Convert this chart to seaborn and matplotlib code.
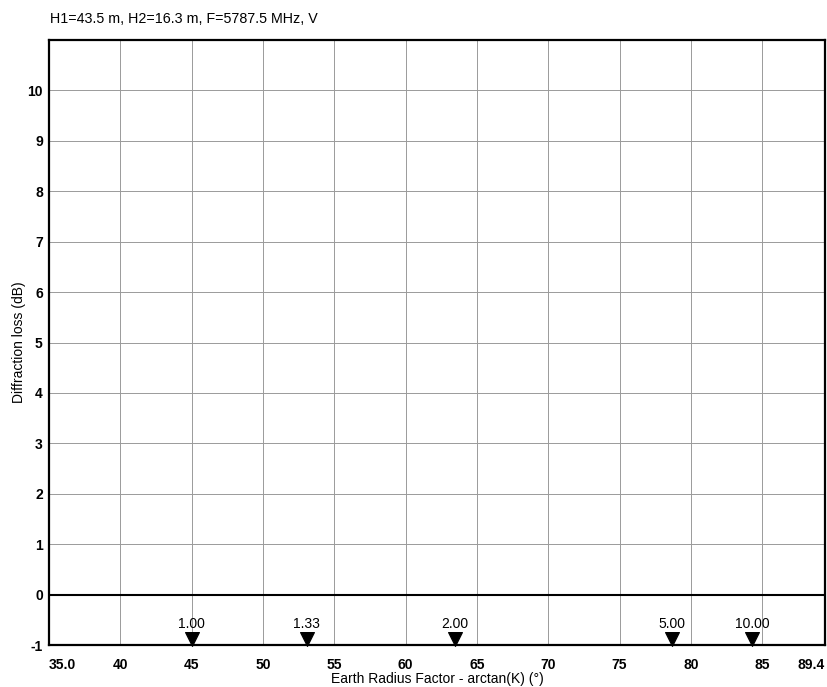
"""Diffraction loss vs. earth radius factor chart."""

import matplotlib
matplotlib.use('Agg')
import matplotlib.pyplot as plt
import seaborn as sns
import numpy as np
import pandas as pd

# Chart data
title = 'H1=43.5 m, H2=16.3 m, F=5787.5 MHz, V'
k_factors = [1.00, 1.33, 2.00, 5.00, 10.00]
k_labels = ['1.00', '1.33', '2.00', '5.00', '10.00']
x_ticks = [35.0, 40, 45, 50, 55, 60, 65, 70, 75, 80, 85, 89.4]
x_tick_labels = ['35.0', '40', '45', '50', '55', '60', '65', '70', '75', '80', '85', '89.4']
y_ticks = [-1, 0, 1, 2, 3, 4, 5, 6, 7, 8, 9, 10]
loss_line_x = [35.0, 89.4]
loss_line_y = [0.0, 0.0]

sns.set_style('white')
plt.rcParams['font.family'] = ['Liberation Sans', 'DejaVu Sans']
plt.rcParams.update({
    'text.color': 'black',
    'axes.labelcolor': 'black',
    'xtick.color': 'black',
    'ytick.color': 'black',
})

fig = plt.figure(figsize=(8.28, 6.87), dpi=100)
ax = fig.add_axes([0.0592, 0.0611, 0.9372, 0.8807])

# Vertical / horizontal grid
for x in x_ticks[1:-1]:
    ax.axvline(x, color='#9a9a9a', lw=0.7, zorder=0)
for y in y_ticks[2:] + [11]:
    ax.axhline(y, color='#9a9a9a', lw=0.7, zorder=0)

# Diffraction loss line (zero across the range)
line_df = pd.DataFrame({'x': loss_line_x, 'y': loss_line_y})
sns.lineplot(data=line_df, x='x', y='y', color='black', lw=1.5, ax=ax, zorder=3)

# K-factor markers
k_df = pd.DataFrame({
    'angle': np.degrees(np.arctan(k_factors)),
    'y': [-0.89] * len(k_factors),
    'label': k_labels,
})
sns.scatterplot(data=k_df, x='angle', y='y', marker='v', s=100, color='black',
                edgecolor='black', ax=ax, zorder=4, clip_on=False)
for _, row in k_df.iterrows():
    ax.text(row['angle'], -0.58, row['label'], ha='center', va='center',
            fontsize=10, color='black')

ax.set_xlim(35.0, 89.4)
ax.set_ylim(-1, 11)
ax.set_xticks(x_ticks)
ax.set_xticklabels(x_tick_labels, fontsize=10, fontweight='bold')
labels = ax.get_xticklabels()
labels[0].set_ha('left')
labels[-1].set_ha('right')
ax.set_yticks(y_ticks)
ax.set_yticklabels([str(v) for v in y_ticks], fontsize=10, fontweight='bold')
ax.tick_params(axis='x', length=0, pad=9)
ax.tick_params(axis='y', length=0, pad=4.5)

ax.set_xlabel('Earth Radius Factor - arctan(K) (°)', fontsize=10, labelpad=0.5)
ax.set_ylabel('Diffraction loss (dB)', fontsize=10, labelpad=1)

for spine in ax.spines.values():
    spine.set_visible(True)
    spine.set_color('black')
    spine.set_linewidth(1.6)

fig.text(0.06, 0.973, title, fontsize=10.3, ha='left', va='center')

plt.savefig('out.png', dpi=100)
plt.close()
